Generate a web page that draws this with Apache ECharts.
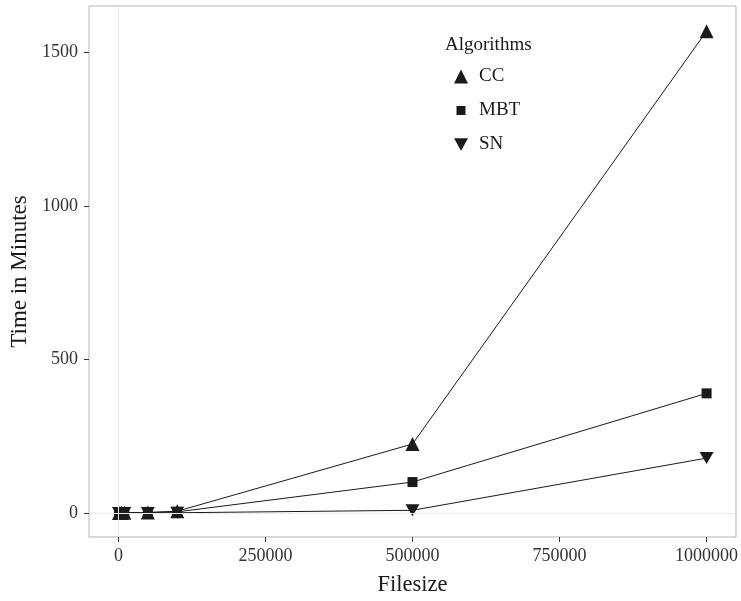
<!DOCTYPE html>
<html>
<head>
<meta charset="utf-8">
<script src="https://cdn.jsdelivr.net/npm/echarts@6/dist/echarts.min.js"></script>
<style>html,body{margin:0;padding:0;background:#fff}#c{width:741px;height:601px}</style>
</head>
<body>
<div id="c"></div>
<script>
const filesizes = [1000, 5000, 10000, 50000, 100000, 500000, 1000000];
const ccValues  = [0.1, 0.3, 0.8, 2, 6, 225, 1570];
const mbtValues = [0.1, 0.2, 0.5, 1.5, 4, 101, 390];
const snValues  = [0.05, 0.1, 0.2, 0.5, 1, 9, 179];
const xTicks = [0, 250000, 500000, 750000, 1000000];
const yTicks = [0, 500, 1000, 1500];

const font = 'Liberation Serif';
const downTri = 'path://M0,0 L10,0 L5,9 Z';
const smallSquare = 'path://M0,0 M14,14 M2.5,2.5 L11.5,2.5 L11.5,11.5 L2.5,11.5 Z';
const pair = (xs, ys) => xs.map((x, i) => [x, ys[i]]);

const chart = echarts.init(document.getElementById('c'));
chart.setOption({
  animation: false,
  textStyle: { fontFamily: font },
  grid: { left: 89, right: 5, top: 6, bottom: 64, show: true, borderColor: '#b3b3b3', borderWidth: 1,
          backgroundColor: '#fff', containLabel: false, outerBoundsMode: 'none' },
  graphic: [{ type: 'text', left: 445, top: 36, style: { text: 'Algorithms', font: '19px "Liberation Serif"', fill: '#1a1a1a' } }],
  legend: {
    orient: 'vertical', left: 449, top: 62, itemGap: 15, itemWidth: 14, itemHeight: 14,
    textStyle: { fontFamily: font, fontSize: 19, color: '#1a1a1a', padding: [0, 0, 0, 6] },
    data: [
      { name: 'CC', icon: 'triangle' },
      { name: 'MBT', icon: smallSquare },
      { name: 'SN', icon: downTri }
    ]
  },
  xAxis: {
    type: 'value', min: -50000, max: 1050000,
    name: 'Filesize', nameLocation: 'middle', nameGap: 37,
    nameTextStyle: { fontFamily: font, fontSize: 22.5, color: '#1a1a1a' },
    axisLine: { show: false, onZero: false },
    axisTick: { show: true, customValues: xTicks, length: 5, lineStyle: { color: '#333' } },
    axisLabel: { customValues: xTicks, fontFamily: font, fontSize: 18, color: '#333', margin: 10,
                 formatter: v => String(v) },
    splitLine: { show: false }
  },
  yAxis: {
    type: 'value', min: -78, max: 1652,
    name: 'Time in Minutes', nameLocation: 'middle', nameGap: 54,
    nameTextStyle: { fontFamily: font, fontSize: 23, color: '#1a1a1a' },
    axisLine: { show: false, onZero: false },
    axisTick: { show: true, customValues: yTicks, length: 5, lineStyle: { color: '#333' } },
    axisLabel: { customValues: yTicks, fontFamily: font, fontSize: 18, color: '#333', margin: 11,
                 formatter: v => String(v) },
    splitLine: { show: false }
  },
  series: [
    { type: 'line', name: 'ref', data: [], z: 0, silent: true, legendHoverLink: false,
      markLine: { silent: true, symbol: 'none', label: { show: false }, lineStyle: { color: '#ebebeb', width: 1, type: 'solid' },
        data: [{ xAxis: 0 }, { yAxis: 0 }] } },
    { type: 'line', name: 'CC', data: pair(filesizes, ccValues), symbol: 'triangle', symbolSize: 14,
      lineStyle: { color: '#1a1a1a', width: 1 }, itemStyle: { color: '#1a1a1a' } },
    { type: 'line', name: 'MBT', data: pair(filesizes, mbtValues), symbol: 'rect', symbolSize: 10,
      lineStyle: { color: '#1a1a1a', width: 1 }, itemStyle: { color: '#1a1a1a' } },
    { type: 'line', name: 'SN', data: pair(filesizes, snValues), symbol: downTri, symbolSize: [14, 12],
      lineStyle: { color: '#1a1a1a', width: 1 }, itemStyle: { color: '#1a1a1a' } }
  ]
});
</script>
</body>
</html>
